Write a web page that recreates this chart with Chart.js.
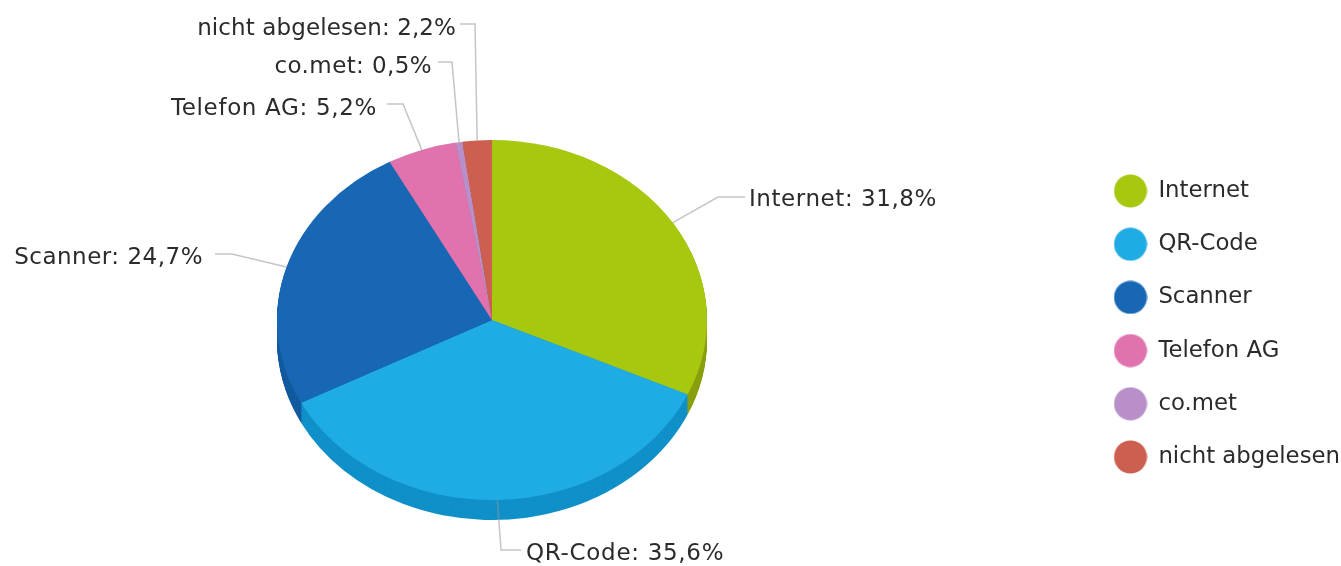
<!DOCTYPE html>
<html>
<head>
<meta charset="utf-8">
<title>Ablesearten</title>
<script src="https://cdn.jsdelivr.net/npm/chart.js@4"></script>
<style>
  html, body { margin: 0; padding: 0; background: #fff; }
  #wrap { width: 1341px; height: 566px; position: relative; }
</style>
</head>
<body>
<div id="wrap"><canvas id="pie"></canvas></div>
<script>
const categories = ["Internet", "QR-Code", "Scanner", "Telefon AG", "co.met", "nicht abgelesen"]
const shares = [31.8, 35.6, 24.7, 5.2, 0.5, 2.2]
const topColors = ["#a6c80f", "#1fabe4", "#1767b5", "#e073ae", "#b98fc9", "#cc5f50"]
const sideColors = ["#8a9f0f", "#1090c8", "#125a9e", "#b85a8e", "#96739f", "#a54c40"]

// where each callout bends and where its text sits
const callouts = [
  { elbow: [718, 197], end: 745, text: [749, 200], align: "left", spacing: 0.57 },
  { elbow: [501, 550], end: 521, text: [526, 554], align: "left", spacing: 0.7 },
  { elbow: [232, 254], end: 215, text: [203, 258], align: "right", spacing: 0.5 },
  { elbow: [403, 104], end: 387, text: [377, 109], align: "right", spacing: 0.66 },
  { elbow: [452, 62], end: 438, text: [432, 67], align: "right", spacing: 0.4 },
  { elbow: [475, 24], end: 460, text: [456, 29], align: "right", spacing: 0.1 },
]

const FONT = "DejaVu Sans, Verdana, sans-serif"
const CALLOUT_SIZE = 23
const LEGEND_SIZE = 22.8
const TEXT_COLOR = "#2b2b2b"
const CENTER_X = 492
const CENTER_Y = 320
const SQUASH = 180 / 215 // ry / rx of the tilted disc
const DEPTH = 20

// legend dots are larger than Chart.js allows for plain point styles
function dot(color) {
  const c = document.createElement("canvas")
  c.width = 34
  c.height = 34
  const g = c.getContext("2d")
  g.fillStyle = color
  g.beginPath()
  g.arc(17, 17, 16.5, 0, Math.PI * 2)
  g.fill()
  return c
}

function formatShare(v) {
  return v.toFixed(1).replace(".", ",") + "%"
}

const tiltedPie = {
  id: "tiltedPie",
  beforeDatasetsDraw(chart) {
    const { ctx } = chart
    const arcs = chart.getDatasetMeta(0).data
    const cy = arcs[0].y
    ctx.save()
    ctx.translate(CENTER_X - arcs[0].x, CENTER_Y)
    ctx.scale(1, SQUASH)
    ctx.translate(0, -cy)

    // side wall: stack of darker wedges below the top face
    for (let d = DEPTH; d > 0; d--) {
      arcs.forEach((arc, i) => {
        const dy = d / SQUASH
        ctx.fillStyle = sideColors[i]
        ctx.beginPath()
        ctx.moveTo(arc.x, arc.y + dy)
        ctx.arc(arc.x, arc.y + dy, arc.outerRadius, arc.startAngle, arc.endAngle)
        ctx.closePath()
        ctx.fill()
      })
    }
  },
  afterDatasetsDraw(chart) {
    const { ctx } = chart
    ctx.restore()

    const arcs = chart.getDatasetMeta(0).data
    ctx.save()
    ctx.font = CALLOUT_SIZE + "px " + FONT
    ctx.textBaseline = "middle"
    arcs.forEach((arc, i) => {
      const mid = (arc.startAngle + arc.endAngle) / 2
      const rimX = CENTER_X + Math.cos(mid) * arc.outerRadius
      const rimY = CENTER_Y + Math.sin(mid) * arc.outerRadius * SQUASH
      const c = callouts[i]

      ctx.strokeStyle = "rgba(150, 150, 150, 0.55)"
      ctx.lineWidth = 1.5
      ctx.beginPath()
      ctx.moveTo(rimX, rimY)
      ctx.lineTo(c.elbow[0], c.elbow[1])
      ctx.lineTo(c.end, c.elbow[1])
      ctx.stroke()

      ctx.fillStyle = TEXT_COLOR
      ctx.textAlign = c.align
      ctx.letterSpacing = c.spacing + "px"
      ctx.fillText(categories[i] + ": " + formatShare(shares[i]), c.text[0], c.text[1])
    })
    ctx.restore()
  },
}

new Chart(document.getElementById("pie"), {
  type: "pie",
  data: {
    labels: categories,
    datasets: [
      {
        data: shares,
        backgroundColor: topColors,
        borderWidth: 0,
      },
    ],
  },
  options: {
    responsive: true,
    maintainAspectRatio: false,
    animation: false,
    layout: {
      padding: { top: 109, bottom: 27 },
    },
    plugins: {
      tooltip: { enabled: false },
      legend: {
        position: "right",
        maxWidth: 257.4,
        labels: {
          color: TEXT_COLOR,
          padding: 30.4,
          usePointStyle: true,
          pointStyleWidth: 33,
          font: { family: FONT, size: LEGEND_SIZE, lineHeight: 1 },
          generateLabels() {
            return categories.map((name, i) => ({
              text: name,
              fontColor: TEXT_COLOR,
              fillStyle: topColors[i],
              strokeStyle: topColors[i],
              lineWidth: 0,
              pointStyle: dot(topColors[i]),
              index: i,
            }))
          },
        },
      },
    },
  },
  plugins: [tiltedPie],
})
</script>
</body>
</html>
